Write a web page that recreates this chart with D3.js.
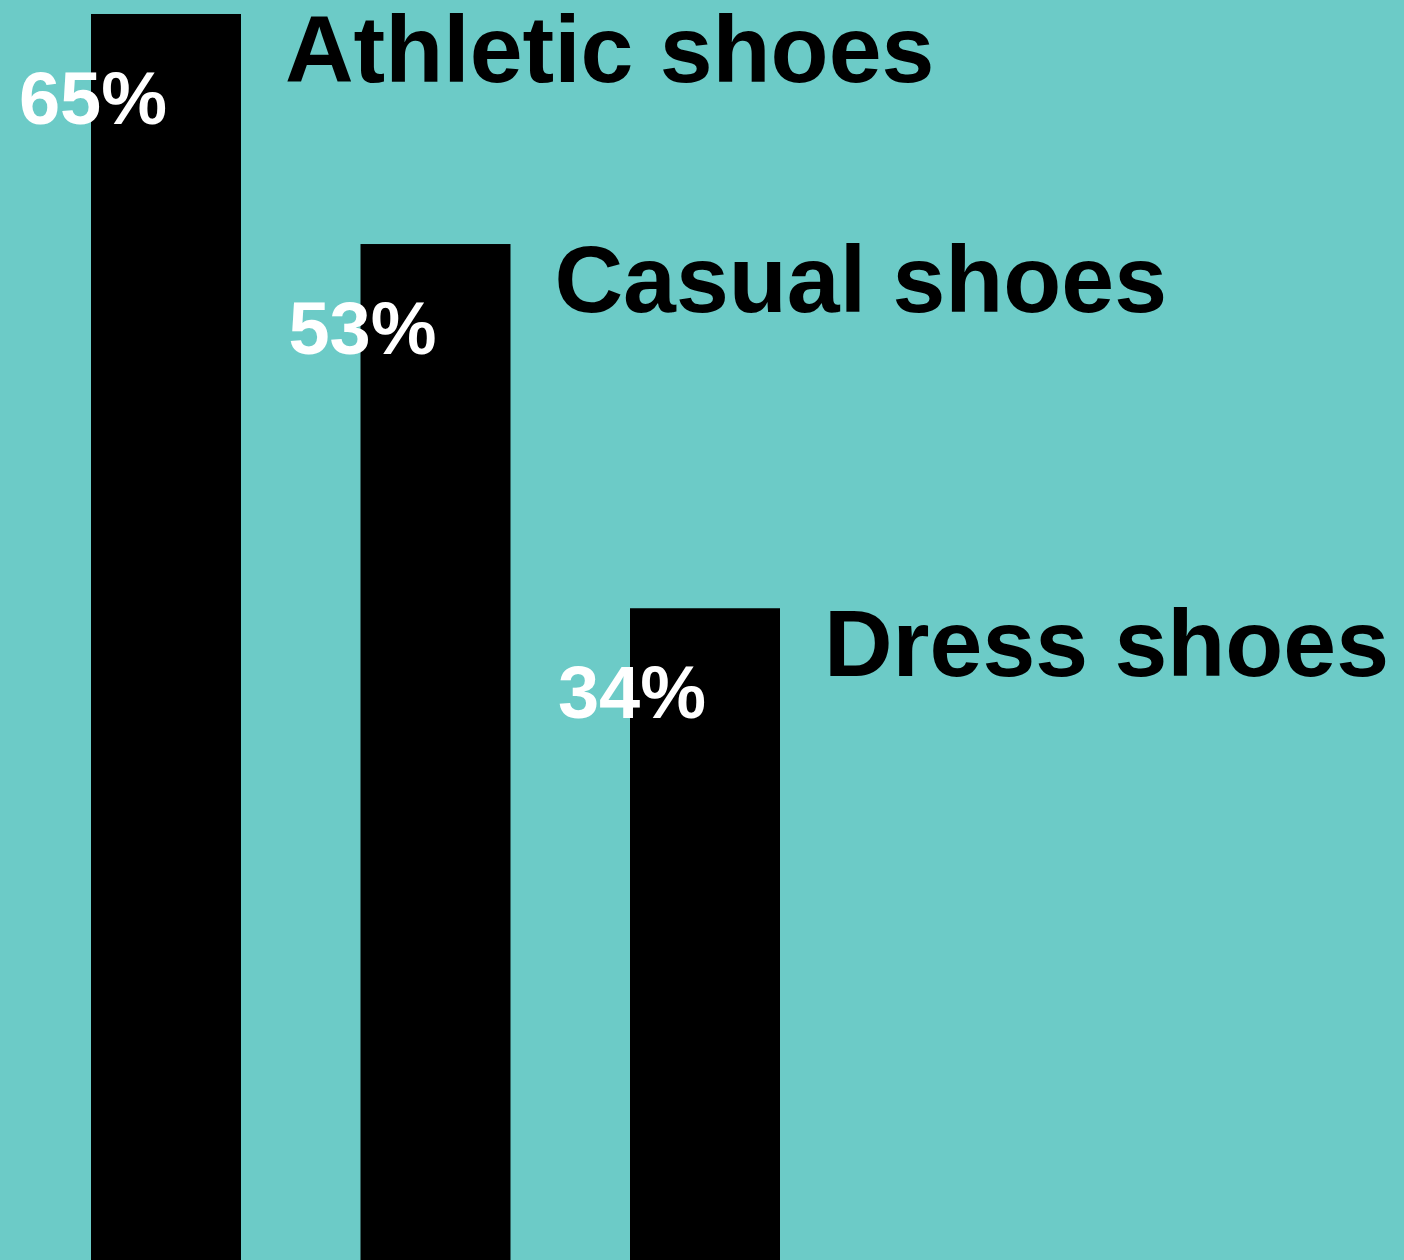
<!DOCTYPE html>
<html>
<head>
<meta charset="utf-8">
<script src="https://cdn.jsdelivr.net/npm/d3@7"></script>
<style>
  html, body { margin: 0; padding: 0; background: #6ccbc7; }
  svg { display: block; }
  text { font-family: "Liberation Sans", Arial, sans-serif; font-weight: bold; }
</style>
</head>
<body>
<div id="chart"></div>
<script>
var categories = ["Athletic shoes", "Casual shoes", "Dress shoes"];
var values = [65, 53, 34];
var valueLabels = ["65%", "53%", "34%"];

var width = 1404, height = 1260;

var svg = d3.select("#chart")
  .append("svg")
  .attr("width", width)
  .attr("height", height);

svg.append("rect")
  .attr("width", width)
  .attr("height", height)
  .attr("fill", "#6ccbc7");

// three 150px bars, first at x=91, last ending at x=780
var x = d3.scaleBand()
  .domain(categories)
  .range([91, 780])
  .paddingInner(119.5 / 269.5)
  .paddingOuter(0);

var y = d3.scaleLinear()
  .domain([0, 65.73])
  .range([height, 0]);

var data = categories.map(function(c, i) {
  return {cat: c, value: values[i], label: valueLabels[i]};
});

svg.selectAll(".bar")
  .data(data)
  .enter()
  .append("rect")
  .attr("class", "bar")
  .attr("x", function(d) { return x(d.cat); })
  .attr("y", function(d) { return y(d.value); })
  .attr("width", x.bandwidth())
  .attr("height", function(d) { return height - y(d.value); })
  .attr("fill", "#000");

svg.selectAll(".pct")
  .data(data)
  .enter()
  .append("text")
  .attr("class", "pct")
  .attr("x", function(d) { return x(d.cat) + 2; })
  .attr("y", function(d) { return y(d.value) + 110; })
  .attr("text-anchor", "middle")
  .attr("font-size", 74)
  .attr("fill", "#fff")
  .text(function(d) { return d.label; });

svg.selectAll(".cat")
  .data(data)
  .enter()
  .append("text")
  .attr("class", "cat")
  .attr("x", function(d) { return x(d.cat) + x.bandwidth() + 44; })
  .attr("y", function(d) { return y(d.value) + 68; })
  .attr("font-size", 95)
  .attr("fill", "#000")
  .text(function(d) { return d.cat; });
</script>
</body>
</html>
